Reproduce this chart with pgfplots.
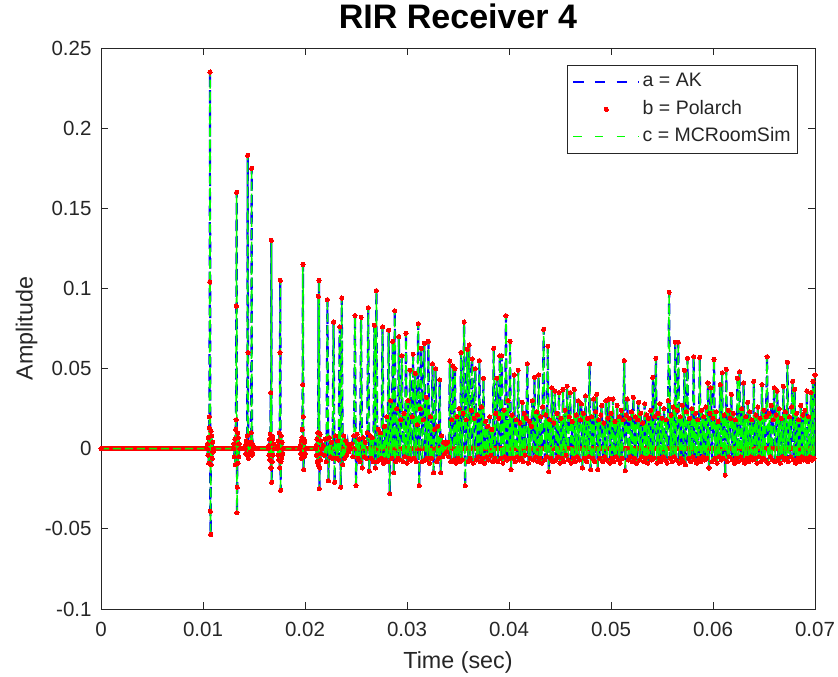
\documentclass[border=0pt]{standalone}
\usepackage{fontspec}
\setmainfont{Liberation Sans}
\usepackage{pgfplots}
\usepackage{pgfplotstable}
\pgfplotsset{compat=1.18}
\definecolor{mblue}{rgb}{0,0,1}
\definecolor{mred}{rgb}{1,0,0}
\definecolor{mgreen}{rgb}{0,1,0}
\definecolor{axgray}{rgb}{0.15,0.15,0.15}

\pgfplotstableread{
t y
0 0
0.01040 0
0.01044 0.003
0.01048 -0.004
0.01052 0.007
0.01056 -0.009
0.01060 0.013
0.01063 0.020
0.01066 0.104
0.01069 0.235
0.01072 -0.039
0.01075 -0.0535
0.01078 0.011
0.01082 -0.010
0.01086 0.008
0.01090 -0.006
0.01094 0.004
0.01098 -0.002
0.01102 0
0.01300 0
0.01304 0.003
0.01308 -0.005
0.01312 0.006
0.01316 -0.010
0.01320 0.012
0.01324 0.018
0.01327 0.089
0.01330 0.160
0.01333 -0.040
0.01336 -0.024
0.01339 0.010
0.01343 -0.009
0.01347 0.007
0.01351 -0.005
0.01355 0.003
0.01359 0
0.01410 0
0.01415 0.002
0.01420 -0.003
0.01425 0.005
0.01430 -0.004
0.01434 0.008
0.01438 0.183
0.01441 0.060
0.01444 -0.006
0.01449 0.004
0.01454 -0.003
0.01459 0.003
0.01464 -0.002
0.01469 0.004
0.01473 0.010
0.01477 0.175
0.01480 -0.004
0.01484 0.003
0.01488 -0.003
0.01493 0.002
0.01498 0
0.01640 0
0.01644 0.002
0.01648 -0.004
0.01652 0.006
0.01656 -0.007
0.01660 0.009
0.01664 0.035
0.01667 -0.012
0.01670 0.130
0.01673 -0.021
0.01676 0.008
0.01680 -0.008
0.01684 0.006
0.01688 -0.004
0.01692 0.003
0.01696 0
0.01728 0
0.01732 0.002
0.01736 -0.004
0.01740 0.005
0.01744 -0.007
0.01748 0.010
0.01752 -0.012
0.01755 0.060
0.01758 0.105
0.01761 -0.026
0.01764 -0.008
0.01768 0.008
0.01772 -0.006
0.01776 0.004
0.01780 -0.003
0.01784 0
0.01950 0
0.01954 0.002
0.01958 -0.003
0.01962 0.005
0.01966 -0.006
0.01970 0.007
0.01974 0.012
0.01977 0.040
0.01980 0.115
0.01983 0.020
0.01986 -0.013
0.01990 0.006
0.01994 -0.005
0.01998 0.004
0.02002 -0.003
0.02006 0
0.02105 0
0.02109 0.002
0.02113 -0.004
0.02117 0.006
0.02121 -0.008
0.02125 0.010
0.02129 -0.010
0.02132 0.095
0.02135 0.010
0.02138 0.105
0.02141 -0.025
0.02144 -0.012
0.02148 0.009
0.02152 -0.007
0.02156 0.005
0.02160 -0.003
0.02164 0
0.0218 0.002
0.0219 -0.004
0.0220 0.006
0.0221 -0.008
0.0222 0.093
0.0223 -0.020
0.0224 0.007
0.0225 -0.005
0.0226 0.004
0.0227 -0.006
0.0228 0.079
0.0229 -0.021
0.0230 0.008
0.0231 -0.006
0.0232 0.005
0.0233 -0.007
0.0234 0.076
0.0235 -0.024
0.0236 0.094
0.0237 -0.010
0.0238 0.008
0.0239 -0.006
0.0240 0.005
0.0241 -0.004
0.0242 0.003
0.0243 -0.002
0.0244 0.001
0.0245 0
0.0246 0.003
0.0247 -0.005
0.0248 0.008
0.0249 0.083
0.0250 -0.023
0.0251 0.009
0.0252 -0.006
0.0253 0.006
0.0254 -0.008
0.0255 0.082
0.0256 -0.012
0.0257 0.007
0.0258 -0.005
0.0259 0.004
0.0260 -0.006
0.0261 0.010
0.0262 0.088
0.0263 -0.014
0.0264 0.008
0.0265 -0.006
0.0266 0.007
0.0267 -0.008
0.0268 0.077
0.0269 -0.012
0.0270 0.0986
0.0271 -0.008
0.0272 0.012
0.0273 -0.007
0.0274 0.010
0.0275 -0.006
0.0276 0.076
0.0277 -0.009
0.0278 0.014
0.0279 -0.007
0.0280 0.020
0.0281 -0.008
0.0282 0.074
0.0283 -0.028
0.0284 0.030
0.0285 -0.006
0.0286 0.067
0.0287 -0.015
0.0288 0.086
0.0289 -0.008
0.0290 0.025
0.0291 -0.006
0.0292 0.070
0.0293 -0.007
0.0294 0.018
0.0295 0.058
0.0296 -0.008
0.0297 0.022
0.0298 -0.005
0.0299 0.072
0.0300 -0.009
0.0301 0.030
0.0302 -0.006
0.0303 0.049
0.0304 -0.007
0.0305 0.020
0.0306 0.059
0.0307 -0.006
0.0308 0.047
0.0309 -0.008
0.0310 0.015
0.0311 0.078
0.0312 -0.023
0.0313 0.025
0.0314 0.0626
0.0315 -0.008
0.0316 0.018
0.0317 0.0657
0.0318 -0.007
0.0319 0.032
0.0320 -0.006
0.0321 0.067
0.0322 -0.009
0.0323 0.020
0.0324 -0.006
0.0325 0.053
0.0326 -0.015
0.0327 0.012
0.0328 0.050
0.0329 -0.008
0.0330 0.014
0.0331 -0.006
0.0332 0.043
0.0333 -0.015
0.0334 0.008
0.0335 -0.005
0.0336 0.004
0.0337 -0.003
0.0338 0.003
0.0339 -0.002
0.0340 0.004
0.0341 -0.005
0.0342 0.0547
0.0343 -0.008
0.0344 0.018
0.0345 0.0516
0.0346 -0.007
0.0347 0.050
0.0348 -0.009
0.0349 0.020
0.0350 -0.006
0.0351 0.025
0.0352 -0.008
0.0353 0.060
0.0354 -0.007
0.0355 0.022
0.0356 0.079
0.0357 -0.023
0.0358 0.018
0.0359 0.062
0.0360 -0.008
0.0361 0.0647
0.0362 -0.006
0.0363 0.024
0.0364 0.056
0.0365 -0.009
0.0366 0.019
0.0367 0.050
0.0368 -0.007
0.0369 0.021
0.0370 -0.005
0.0371 0.055
0.0372 -0.008
0.0373 0.026
0.0374 -0.006
0.0375 0.044
0.0376 -0.009
0.0377 0.017
0.0378 -0.005
0.0379 0.014
0.0380 -0.007
0.0381 0.020
0.0382 -0.004
0.0383 0.012
0.0384 -0.008
0.0385 0.0626
0.0386 -0.006
0.0387 0.022
0.0388 0.044
0.0389 -0.008
0.0390 0.019
0.0391 0.058
0.0392 -0.006
0.0393 0.058
0.0394 -0.009
0.0395 0.024
0.0396 -0.005
0.0397 0.083
0.0398 -0.007
0.0399 0.030
0.0400 -0.006
0.0401 0.067
0.0402 -0.013
0.0403 0.021
0.0404 -0.006
0.0405 0.046
0.0406 -0.008
0.0407 0.018
0.0408 -0.005
0.0409 0.049
0.0410 -0.007
0.0411 0.016
0.0412 -0.006
0.0413 0.029
0.0414 -0.008
0.0415 0.022
0.0416 -0.004
0.0417 0.019
0.0418 0.053
0.0419 -0.009
0.0420 0.017
0.0421 -0.006
0.0422 0.014
0.0423 0.030
0.0424 -0.007
0.0425 0.0445
0.0426 -0.005
0.0427 0.023
0.0428 -0.008
0.0429 0.046
0.0430 -0.006
0.0431 0.020
0.0432 -0.009
0.0433 0.026
0.0434 0.0745
0.0435 -0.007
0.0436 0.021
0.0437 -0.005
0.0438 0.064
0.0439 -0.0144
0.0440 0.018
0.0441 -0.006
0.0442 0.038
0.0443 -0.008
0.0444 0.016
0.0445 0.036
0.0446 -0.007
0.0447 0.022
0.0448 -0.005
0.0449 0.035
0.0450 -0.009
0.0451 0.019
0.0452 -0.006
0.0453 0.037
0.0454 -0.008
0.0455 0.024
0.0456 -0.004
0.0457 0.039
0.0458 -0.007
0.0459 0.020
0.0460 0.035
0.0461 -0.009
0.0462 0.017
0.0463 -0.006
0.0464 0.037
0.0465 -0.008
0.0466 0.021
0.0467 -0.005
0.0468 0.030
0.0469 -0.007
0.0470 0.018
0.0471 0.028
0.0472 -0.012
0.0473 0.022
0.0474 -0.006
0.0475 0.033
0.0476 -0.008
0.0477 0.019
0.0478 -0.005
0.0479 0.053
0.0480 -0.013
0.0481 0.020
0.0482 -0.006
0.0483 0.031
0.0484 -0.008
0.0485 0.023
0.0486 0.034
0.0487 -0.013
0.0488 0.018
0.0489 -0.006
0.0490 0.021
0.0491 0.027
0.0492 -0.008
0.0493 0.016
0.0494 -0.005
0.0495 0.030
0.0496 -0.007
0.0497 0.019
0.0498 0.031
0.0499 -0.009
0.0500 0.022
0.0501 -0.006
0.0502 0.031
0.0503 -0.008
0.0504 0.017
0.0505 -0.005
0.0506 0.027
0.0507 -0.007
0.0508 0.020
0.0509 -0.009
0.0510 0.024
0.0511 -0.006
0.0512 0.018
0.0513 0.055
0.0514 -0.0138
0.0515 0.021
0.0516 0.031
0.0517 -0.007
0.0518 0.019
0.0519 -0.005
0.0520 0.023
0.0521 -0.008
0.0522 0.032
0.0523 -0.006
0.0524 0.020
0.0525 -0.009
0.0526 0.018
0.0527 0.029
0.0528 -0.007
0.0529 0.022
0.0530 -0.005
0.0531 0.016
0.0532 -0.008
0.0533 0.028
0.0534 -0.006
0.0535 0.021
0.0536 -0.009
0.0537 0.019
0.0538 -0.005
0.0539 0.024
0.0540 -0.007
0.0541 0.0445
0.0542 -0.006
0.0543 0.020
0.0544 0.0564
0.0545 -0.009
0.0546 0.022
0.0547 -0.006
0.0548 0.028
0.0549 -0.008
0.0550 0.019
0.0551 -0.005
0.0552 0.025
0.0553 -0.007
0.0554 0.018
0.0555 -0.009
0.0556 0.030
0.0557 0.0976
0.0558 -0.006
0.0559 0.021
0.0560 -0.008
0.0561 0.026
0.0562 -0.005
0.0563 0.0665
0.0564 -0.007
0.0565 0.024
0.0566 0.0665
0.0567 -0.009
0.0568 0.020
0.0569 -0.006
0.0570 0.027
0.0571 -0.008
0.0572 0.049
0.0573 -0.010
0.0574 0.023
0.0575 0.0564
0.0576 -0.006
0.0577 0.019
0.0578 -0.008
0.0579 0.025
0.0580 -0.005
0.0581 0.0574
0.0582 -0.007
0.0583 0.022
0.0584 -0.009
0.0585 0.018
0.0586 -0.006
0.0587 0.057
0.0588 -0.008
0.0589 0.024
0.0590 -0.005
0.0591 0.020
0.0592 -0.007
0.0593 0.026
0.0594 -0.006
0.0595 0.041
0.0596 -0.012
0.0597 0.022
0.0598 0.038
0.0599 -0.008
0.0600 0.019
0.0601 0.0557
0.0602 -0.006
0.0603 0.023
0.0604 -0.009
0.0605 0.017
0.0606 -0.005
0.0607 0.040
0.0608 -0.007
0.0609 0.0474
0.0610 -0.006
0.0611 0.021
0.0612 -0.0165
0.0613 0.0495
0.0614 -0.008
0.0615 0.024
0.0616 -0.005
0.0617 0.019
0.0618 0.034
0.0619 -0.007
0.0620 0.022
0.0621 -0.009
0.0622 0.018
0.0623 -0.006
0.0624 0.044
0.0625 -0.008
0.0626 0.048
0.0627 -0.005
0.0628 0.025
0.0629 -0.007
0.0630 0.041
0.0631 -0.009
0.0632 0.020
0.0633 -0.006
0.0634 0.029
0.0635 -0.008
0.0636 0.023
0.0637 -0.005
0.0638 0.018
0.0639 -0.007
0.0640 0.042
0.0641 -0.006
0.0642 0.021
0.0643 -0.009
0.0644 0.026
0.0645 -0.005
0.0646 0.019
0.0647 -0.008
0.0648 0.040
0.0649 -0.006
0.0650 0.024
0.0651 -0.007
0.0652 0.020
0.0653 0.0574
0.0654 -0.009
0.0655 0.022
0.0656 -0.005
0.0657 0.027
0.0658 -0.007
0.0659 0.018
0.0660 0.038
0.0661 -0.008
0.0662 0.021
0.0663 0.036
0.0664 -0.006
0.0665 0.025
0.0666 -0.009
0.0667 0.019
0.0668 -0.005
0.0669 0.039
0.0670 -0.007
0.0671 0.023
0.0672 -0.006
0.0673 0.054
0.0674 -0.008
0.0675 0.020
0.0676 -0.005
0.0677 0.026
0.0678 0.042
0.0679 -0.007
0.0680 0.037
0.0681 -0.009
0.0682 0.022
0.0683 -0.006
0.0684 0.018
0.0685 -0.008
0.0686 0.027
0.0687 -0.005
0.0688 0.021
0.0689 -0.007
0.0690 0.024
0.0691 -0.006
0.0692 0.036
0.0693 -0.008
0.0694 0.020
0.0695 -0.005
0.0696 0.035
0.0697 -0.007
0.0698 0.042
0.0699 -0.006
0.0700 0.046
}\rir

\begin{document}
\begin{tikzpicture}
\useasboundingbox (-101bp,-68bp) rectangle (737bp,609bp);
\begin{axis}[
  scale only axis,
  width=714bp, height=561bp,
  xmin=0, xmax=0.07, ymin=-0.1, ymax=0.25,
  xtick={0,0.01,0.02,0.03,0.04,0.05,0.06,0.07},
  xticklabels={0,0.01,0.02,0.03,0.04,0.05,0.06,0.07},
  ytick={-0.1,-0.05,0,0.05,0.1,0.15,0.2,0.25},
  yticklabels={-0.1,-0.05,0,0.05,0.1,0.15,0.2,0.25},
  scaled ticks=false,
  tick align=inside,
  major tick length=7bp,
  minor tick num=0,
  axis line style={draw=axgray, line width=0.8bp},
  every tick/.style={draw=axgray, line width=0.8bp},
  tick label style={font=\fontsize{20.5bp}{24bp}\selectfont, text=axgray},
  xticklabel style={anchor=base, inner sep=0pt, yshift=-27.7bp},
  yticklabel style={anchor=east, inner sep=0pt, xshift=-9.3bp},
  xlabel={Time (sec)},
  ylabel={Amplitude},
  xlabel style={at={(axis description cs:0.5,-0.1057)}, anchor=base, font=\fontsize{23.3bp}{27bp}\selectfont, text=axgray, inner sep=0pt},
  ylabel style={at={(axis description cs:-0.0959,0.5)}, anchor=base, font=\fontsize{23.3bp}{27bp}\selectfont, text=axgray, inner sep=0pt},
  title={RIR Receiver 4},
  title style={at={(axis description cs:0.5,1.0244)}, anchor=base, font=\bfseries\fontsize{34bp}{38bp}\selectfont, inner sep=0pt},
  legend cell align=left,
  legend image code/.code={\draw[mark repeat=2,mark phase=2,#1] plot coordinates {(0bp,0bp) (33bp,0bp) (66bp,0bp)};},
  legend style={at={(axis description cs:0.9762,0.9697)}, anchor=north east,
    draw=axgray, line width=0.8bp, fill=white,
    font=\fontsize{19.5bp}{22bp}\selectfont, text=axgray,
    inner xsep=4.5bp, inner ysep=2.75bp, row sep=0pt,
    nodes={inner xsep=2.5bp, inner ysep=4.75bp, text height=14bp, text depth=4bp}},
]
\addplot[mblue, line width=2.2bp, dash pattern=on 10.5bp off 6bp, forget plot] table[x=t,y=y] {\rir};
\addplot[mred, line width=4.5bp, forget plot] coordinates {(0,0) (0.07,0)};
\addplot[mred, only marks, mark=*, mark size=2.1bp, mark options={fill=mred, draw=mred, line width=0pt}, forget plot] table[x=t,y=y] {\rir};
\addplot[mgreen, line width=1.5bp, dash pattern=on 8bp off 4bp, forget plot] table[x=t,y=y] {\rir};
\addlegendimage{mblue, line width=2bp, dash pattern=on 10.5bp off 11.2bp}
\addlegendentry{a = AK}
\addlegendimage{mred, only marks, mark=*, mark size=2.1bp, mark options={fill=mred, draw=mred, line width=0pt}}
\addlegendentry{b = Polarch}
\addlegendimage{mgreen, line width=1bp, dash pattern=on 8.3bp off 13.4bp}
\addlegendentry{c = MCRoomSim}
\end{axis}
\end{tikzpicture}
\end{document}
